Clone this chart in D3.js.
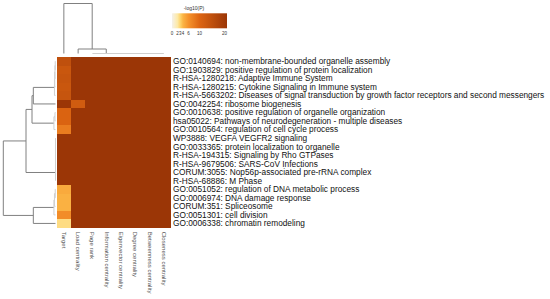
<!DOCTYPE html>
<html>
<head>
<meta charset="utf-8">
<script src="https://cdn.jsdelivr.net/npm/d3@7"></script>
<style>
  body { margin: 0; background: #fff; }
  svg { display: block; font-family: "Liberation Sans", Arial, sans-serif; }
</style>
</head>
<body>
<div id="chart"></div>
<script>
// columns of the heatmap
const columns = ["Target", "Load centrality", "Page rank", "Information centrality",
    "Eigenvector centrality", "Degree centrality", "Betweenness centrality", "Closeness centrality"];

// enriched terms (rows)
const terms = [
    "GO:0140694: non-membrane-bounded organelle assembly",
    "GO:1903829: positive regulation of protein localization",
    "R-HSA-1280218: Adaptive Immune System",
    "R-HSA-1280215: Cytokine Signaling in Immune system",
    "R-HSA-5663202: Diseases of signal transduction by growth factor receptors and second messengers",
    "GO:0042254: ribosome biogenesis",
    "GO:0010638: positive regulation of organelle organization",
    "hsa05022: Pathways of neurodegeneration - multiple diseases",
    "GO:0010564: regulation of cell cycle process",
    "WP3888: VEGFA VEGFR2 signaling",
    "GO:0033365: protein localization to organelle",
    "R-HSA-194315: Signaling by Rho GTPases",
    "R-HSA-9679506: SARS-CoV Infections",
    "CORUM:3055: Nop56p-associated pre-rRNA complex",
    "R-HSA-68886: M Phase",
    "GO:0051052: regulation of DNA metabolic process",
    "GO:0006974: DNA damage response",
    "CORUM:351: Spliceosome",
    "GO:0051301: cell division",
    "GO:0006338: chromatin remodeling"
];

// -log10(P) per column (capped at 20)
const targetLogP      = [14.5, 13, 13.5, 13, 13.5, 20, 10.5, 10.5, 8, 20, 20, 20, 20, 20, 20, 4.6, 4.2, 4.2, 6.5, 2.6];
const loadLogP        = [20, 20, 20, 20, 20, 12, 20, 20, 20, 20, 20, 20, 20, 20, 20, 20, 20, 20, 20, 20];
const pageRankLogP    = [20, 20, 20, 20, 20, 20, 20, 20, 20, 20, 20, 20, 20, 20, 20, 20, 20, 20, 20, 20];
const informationLogP = [20, 20, 20, 20, 20, 20, 20, 20, 20, 20, 20, 20, 20, 20, 20, 20, 20, 20, 20, 20];
const eigenvectorLogP = [20, 20, 20, 20, 20, 20, 20, 20, 20, 20, 20, 20, 20, 20, 20, 20, 20, 20, 20, 20];
const degreeLogP      = [20, 20, 20, 20, 20, 20, 20, 20, 20, 20, 20, 20, 20, 20, 20, 20, 20, 20, 20, 20];
const betweennessLogP = [20, 20, 20, 20, 20, 20, 20, 20, 20, 20, 20, 20, 20, 20, 20, 20, 20, 20, 20, 20];
const closenessLogP   = [20, 20, 20, 20, 20, 20, 20, 20, 20, 20, 20, 20, 20, 20, 20, 20, 20, 20, 20, 20];
const columnValues = [targetLogP, loadLogP, pageRankLogP, informationLogP,
    eigenvectorLogP, degreeLogP, betweennessLogP, closenessLogP];

// legend ticks
const legendTicks = [0, 2, 3, 4, 6, 10, 20];

// dendrograms: leaves are row / column indices, h = merge height (relative)
const rowTree = { h: 1, c: [
    { h: 0.565, c: [
        { h: 0.45, c: [
            { h: 0.425, c: [
                { h: 0.02, c: [{ h: 0.015, c: [{ h: 0.01, c: [{ h: 0.005, c: [0, 1] }, 2] }, 3] }, 4] },
                5] },
            { h: 0.03, c: [{ h: 0.01, c: [6, 7] }, 8] }] },
        { h: 0, c: [{ h: 0, c: [{ h: 0, c: [{ h: 0, c: [{ h: 0, c: [9, 10] }, 11] }, 12] }, 13] }, 14] }] },
    { h: 0.425, c: [
        { h: 0.03, c: [{ h: 0.02, c: [{ h: 0.005, c: [15, 16] }, 17] }, 18] },
        19] }] };

const colTree = { h: 1, c: [
    0,
    { h: 0.09, c: [1, { h: 0, c: [2, { h: 0, c: [3, { h: 0, c: [4, { h: 0, c: [5, { h: 0, c: [6, 7] }] }] }] }] }] }] };

const W = 550, H = 299;
const hm = { left: 56.7, right: 171, top: 57, bottom: 227.7 };

const svg = d3.select("#chart").append("svg")
    .attr("width", W)
    .attr("height", H);

const x = d3.scaleBand().domain(d3.range(columns.length)).range([hm.left, hm.right]);
const y = d3.scaleBand().domain(d3.range(terms.length)).range([hm.top, hm.bottom]);

const color = d3.scaleLinear()
    .domain([0, 2, 3, 4, 6, 10, 20])
    .range(["#f4f1ea", "#fde9a6", "#fed36b", "#fbb444", "#f5922b", "#dd6512", "#9b3606"])
    .clamp(true);

// cells
const cells = [];
columnValues.forEach((vals, ci) => {
    vals.forEach((v, ri) => cells.push({ ci: ci, ri: ri, v: v }));
});

// draw cells slightly oversized so no seams show between them
svg.append("g").selectAll("rect")
    .data(cells)
    .enter().append("rect")
    .attr("x", d => x(d.ci))
    .attr("y", d => y(d.ri))
    .attr("width", d => d.ci === columns.length - 1 ? x.bandwidth() : x.bandwidth() + 1)
    .attr("height", d => d.ri === terms.length - 1 ? y.bandwidth() : y.bandwidth() + 1)
    .attr("fill", d => color(d.v))
    .attr("shape-rendering", "crispEdges");

// row labels
svg.append("g").selectAll("text")
    .data(terms)
    .enter().append("text")
    .attr("x", hm.right + 2)
    .attr("y", (d, i) => y(i) + y.bandwidth() / 2)
    .attr("dy", "0.35em")
    .attr("font-size", 8.3)
    .attr("fill", "#111")
    .text(d => d);

// column labels (rotated)
svg.append("g").selectAll("text")
    .data(columns)
    .enter().append("text")
    .attr("transform", (d, i) => "translate(" + (x(i) + x.bandwidth() / 2 - 2) + "," + (hm.bottom + 4) + ") rotate(90)")
    .attr("font-size", 6)
    .attr("fill", "#555")
    .text(d => d);

// dendrogram helper: lays out a nested tree, returns node with pos & h
function layout(node, leafPos) {
    if (typeof node === "number") return { pos: leafPos(node), h: 0, leaf: true };
    const kids = node.c.map(k => layout(k, leafPos));
    return { pos: d3.mean(kids, k => k.pos), h: node.h, kids: kids };
}

function drawTree(g, node, hScale, vertical) {
    if (node.leaf) return;
    const stroke = node.h < 0.05 ? "#cfcfcf" : "#808080";
    const line = (a1, b1, a2, b2) => {
        // a = along-leaf axis, b = height axis
        g.append("line")
            .attr("x1", vertical ? a1 : b1).attr("y1", vertical ? b1 : a1)
            .attr("x2", vertical ? a2 : b2).attr("y2", vertical ? b2 : a2)
            .attr("stroke", stroke)
            .attr("stroke-width", 1);
    };
    const hp = hScale(node.h);
    line(node.kids[0].pos, hp, node.kids[1].pos, hp);
    node.kids.forEach(k => {
        line(k.pos, hp, k.pos, hScale(k.h));
        drawTree(g, k, hScale, vertical);
    });
}

// row dendrogram (left)
const rowH = d3.scaleLinear().domain([0, 1]).range([55.5, 3.3]);
const rowRoot = layout(rowTree, i => y(i) + y.bandwidth() / 2);
drawTree(svg.append("g"), rowRoot, rowH, false);

// column dendrogram (top)
const colH = d3.scaleLinear().domain([0, 1]).range([53.5, 3.5]);
const colRoot = layout(colTree, i => x(i) + x.bandwidth() / 2);
drawTree(svg.append("g"), colRoot, colH, true);

// legend
const lx = d3.scaleLinear().domain([0, 20]).range([172, 227]);
const defs = svg.append("defs");
const grad = defs.append("linearGradient").attr("id", "lg");
d3.range(0, 21, 1).forEach(v => {
    grad.append("stop")
        .attr("offset", (v / 20 * 100) + "%")
        .attr("stop-color", color(v));
});
svg.append("rect")
    .attr("x", lx(0))
    .attr("y", 13.3)
    .attr("width", lx(20) - lx(0))
    .attr("height", 15)
    .attr("fill", "url(#lg)");

svg.append("text")
    .attr("x", 194)
    .attr("y", 9.5)
    .attr("text-anchor", "middle")
    .attr("font-size", 5)
    .attr("fill", "#333")
    .text("-log10(P)");

svg.append("g").selectAll("text")
    .data(legendTicks)
    .enter().append("text")
    .attr("x", d => lx(d))
    .attr("y", 35)
    .attr("text-anchor", (d, i) => i === legendTicks.length - 1 ? "end" : "middle")
    .attr("font-size", 4.5)
    .attr("fill", "#333")
    .text(d => d);
</script>
</body>
</html>
